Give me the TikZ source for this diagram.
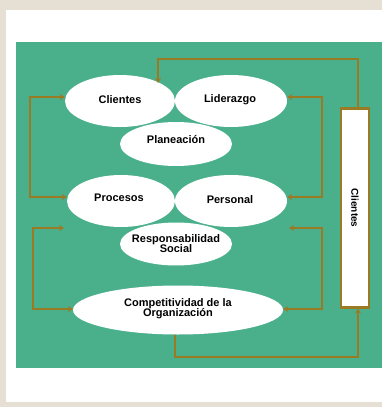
\documentclass[tikz,border=0pt]{standalone}
\usepackage{fontspec}
\setmainfont{Liberation Sans}
\usetikzlibrary{arrows.meta,shapes.geometric}
\definecolor{bgbeige}{HTML}{E6DFD3}
\definecolor{grn}{HTML}{4AB08C}
\definecolor{brn}{HTML}{9A7A22}
\tikzset{
  oval/.style={ellipse, fill=white, inner sep=0pt, font=\bfseries\fontsize{11}{11.5}\selectfont, align=center},
  lbl/.style={font=\bfseries\fontsize{11}{11.5}\selectfont, align=center},
  link/.style={draw=brn, line width=2.2pt, -{Stealth[length=5pt,width=6pt]}},
}
\begin{document}
\begin{tikzpicture}[x=1pt,y=-1pt]
\useasboundingbox (0,0) rectangle (382,407);
\fill[bgbeige] (0,0) rectangle (382,407);
\fill[white] (6,10) rectangle (382,402);
\fill[grn] (16,42) rectangle (382,368);
% ellipses
\node[oval, minimum width=110pt, minimum height=52pt] (cli) at (120,101) {};
\node[oval, minimum width=112pt, minimum height=52pt] (lid) at (231,101) {};
\node[oval, minimum width=112pt, minimum height=44pt] (pla) at (176,144) {};
\node[oval, minimum width=108pt, minimum height=52pt] (pro) at (121,201) {};
\node[oval, minimum width=112pt, minimum height=52pt] (per) at (231,201) {};
\node[oval, minimum width=112pt, minimum height=43pt] (res) at (176,244) {};
\node[oval, minimum width=210pt, minimum height=49pt] (com) at (178,310) {};
% labels
\node[lbl] (tcli) at (120,100) {Clientes};
\node[lbl] (tlid) at (230,100) {Liderazgo};
\node[lbl] (tpla) at (176,140) {Planeación};
\node[lbl] (tpro) at (119,198) {Procesos};
\node[lbl] (tper) at (230,200) {Personal};
\node[lbl] (tres) at (176,244) {Responsabilidad\\[-1.5pt]Social};
\node[lbl] (tcom) at (178,309) {Competitividad de la\\[-1.5pt]Organización};
% side box
\node[draw=brn, line width=2.2pt, fill=white, minimum width=28pt, minimum height=199pt, inner sep=0pt] (box) at (355,208) {};
\node[rotate=-90, font=\bfseries\fontsize{10}{11}\selectfont] (tbox) at (355,208) {Clientes};
% connectors
\coordinate (c1) at (358,59);
\coordinate (c2) at (158,59);
\draw[link] (box.north -| 358,0) -- (c1) -- (c2) -- (158,83);
\draw[link] (30,197) -- (30,97) -- (cli.west |- 0,97);
\draw[link] (30,97) -- (30,197) -- (pro.west |- 0,197);
\draw[link] (322,197) -- (322,97) -- (lid.east |- 0,97);
\draw[link] (322,97) -- (322,197) -- (per.east |- 0,197);
\draw[link] (33,309) -- (33,228) -- (64,228);
\draw[link] (33,228) -- (33,309) -- (com.west |- 0,309);
\draw[link] (322,309) -- (322,228) -- (289,228);
\draw[link] (322,228) -- (322,309) -- (com.east |- 0,309);
\coordinate (d1) at (175,357);
\coordinate (d2) at (358,357);
\draw[link] (com.south -| 175,0) -- (d1) -- (d2) -- (box.south -| 358,0);
\end{tikzpicture}
\end{document}
